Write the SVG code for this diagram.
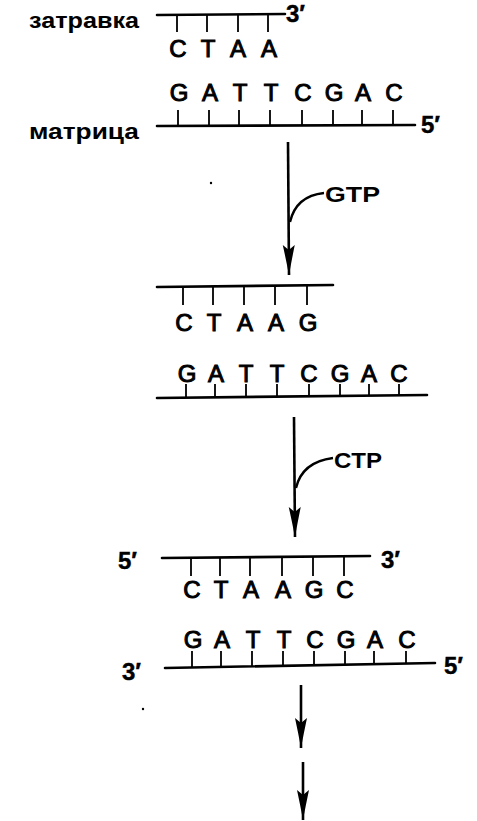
<svg xmlns="http://www.w3.org/2000/svg" width="477" height="821" viewBox="0 0 477 821">
<style>
.strand{stroke:#000;stroke-width:2.6;fill:none;stroke-linecap:round}
.tick{stroke:#000;stroke-width:1.8;fill:none}
.base{font-family:"Liberation Sans",Arial,sans-serif;font-size:24px;fill:#000;stroke:#000;stroke-width:1;text-anchor:middle}
.lbl{font-family:"Liberation Sans",Arial,sans-serif;font-size:22px;font-weight:bold;fill:#000}
.end{font-family:"Liberation Sans",Arial,sans-serif;font-size:24px;font-weight:bold;fill:#000;stroke:#000;stroke-width:0.4}
.nuc{font-family:"Liberation Sans",Arial,sans-serif;font-size:22px;font-weight:bold;fill:#000}
.conn{stroke:#000;stroke-width:2.6;fill:none}
.branch{stroke:#000;stroke-width:2.4;fill:none}
</style>
<defs>
<marker id="ah" markerUnits="userSpaceOnUse" markerWidth="32" markerHeight="14" viewBox="0 -7 32 14" refX="30" refY="0" orient="auto">
<path d="M0,-6 Q14,-3 30,0 Q14,3 0,6 L5,0 Z" fill="#000"/>
</marker>
</defs>

<g id="stage1">
<g id="primer1">
<text class="lbl" x="29" y="28" textLength="110" lengthAdjust="spacingAndGlyphs">затравка</text>
<path class="strand" d="M157,15 L285,14"/>
<path class="tick" d="M177,15V32 M207,15V32 M238,15V32 M268,15V32"/>
<text class="base" x="178" y="57">C</text>
<text class="base" x="208" y="57">T</text>
<text class="base" x="238" y="57">A</text>
<text class="base" x="269" y="57">A</text>
<text class="end" x="286" y="22">3′</text>
</g>
<g id="template1">
<text class="base" x="179" y="101">G</text>
<text class="base" x="210" y="101">A</text>
<text class="base" x="240" y="101">T</text>
<text class="base" x="271" y="101">T</text>
<text class="base" x="303" y="101">C</text>
<text class="base" x="334" y="101">G</text>
<text class="base" x="363" y="101">A</text>
<text class="base" x="394" y="101">C</text>
<path class="tick" d="M178,110V125 M209,110V125 M239,110V125 M270,110V125 M302,110V125 M333,110V125 M362,110V125 M393,110V125"/>
<path class="strand" d="M157,126 L415,125"/>
<text class="end" x="421" y="133">5′</text>
<text class="lbl" x="29" y="139" textLength="110" lengthAdjust="spacingAndGlyphs">матрица</text>
</g>
</g>

<g id="stage2">
<g id="primer2">
<path class="strand" d="M157,287 L333,285"/>
<path class="tick" d="M183,287V305 M213,287V305 M244,286V305 M275,286V305 M307,286V305"/>
<text class="base" x="184" y="331">C</text>
<text class="base" x="214" y="331">T</text>
<text class="base" x="245" y="331">A</text>
<text class="base" x="276" y="331">A</text>
<text class="base" x="308" y="331">G</text>
</g>
<g id="template2">
<text class="base" x="187" y="382">G</text>
<text class="base" x="216" y="382">A</text>
<text class="base" x="246" y="382">T</text>
<text class="base" x="277" y="382">T</text>
<text class="base" x="309" y="382">C</text>
<text class="base" x="340" y="382">G</text>
<text class="base" x="369" y="382">A</text>
<text class="base" x="399" y="382">C</text>
<path class="tick" d="M186,384V398 M215,384V398 M246,384V397 M277,384V397 M309,384V397 M340,384V397 M369,384V396 M399,384V396"/>
<path class="strand" d="M157,398 L427,395"/>
</g>
</g>

<g id="stage3">
<g id="primer3">
<text class="end" x="118" y="569">5′</text>
<path class="strand" d="M162,558 L370,556"/>
<path class="tick" d="M191,558V576 M220,558V576 M250,557V576 M282,557V576 M313,557V576 M344,557V576"/>
<text class="base" x="192" y="598">C</text>
<text class="base" x="221" y="598">T</text>
<text class="base" x="251" y="598">A</text>
<text class="base" x="283" y="598">A</text>
<text class="base" x="314" y="598">G</text>
<text class="base" x="345" y="598">C</text>
<text class="end" x="381" y="568">3′</text>
</g>
<g id="template3">
<text class="base" x="193" y="648">G</text>
<text class="base" x="222" y="648">A</text>
<text class="base" x="253" y="648">T</text>
<text class="base" x="284" y="648">T</text>
<text class="base" x="315" y="648">C</text>
<text class="base" x="346" y="648">G</text>
<text class="base" x="375" y="648">A</text>
<text class="base" x="407" y="648">C</text>
<path class="tick" d="M192,651V668 M221,651V667 M252,651V667 M283,651V666 M314,651V666 M345,651V665 M374,651V665 M406,651V664"/>
<path class="strand" d="M165,668 L435,663"/>
<text class="end" x="122" y="680">3′</text>
<text class="end" x="444" y="674">5′</text>
</g>
</g>

<g id="connectors">
<path class="conn" d="M288,142 L289,275" marker-end="url(#ah)"/>
<path class="branch" d="M290,222 Q296,196 324,193"/>
<text class="nuc" x="325" y="202" textLength="55" lengthAdjust="spacingAndGlyphs">GTP</text>
<path class="conn" d="M294,417 L295,537" marker-end="url(#ah)"/>
<path class="branch" d="M296,488 Q302,462 333,458"/>
<text class="nuc" x="334" y="468" textLength="48" lengthAdjust="spacingAndGlyphs">CTP</text>
<path class="conn" d="M301,685 L301,748" marker-end="url(#ah)"/>
<path class="conn" d="M303,762 L303,820" marker-end="url(#ah)"/>
</g>
<circle cx="211" cy="183" r="1.2" fill="#000"/>
<circle cx="143" cy="709" r="1.2" fill="#000"/>
</svg>
